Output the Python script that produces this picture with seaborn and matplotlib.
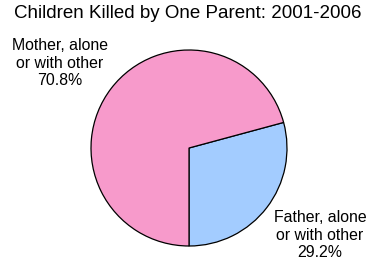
import matplotlib
matplotlib.use("Agg")
import matplotlib.pyplot as plt
import seaborn as sns

categories = ["Father, alone\nor with other", "Mother, alone\nor with other"]
values = [29.2, 70.8]
colors = ["#A3CCFF", "#F79ACB"]

sns.set_theme(style="white")
plt.rcParams['font.family'] = ['Liberation Sans', 'DejaVu Sans']

W, H = 375, 269
fig = plt.figure(figsize=(W / 100, H / 100), dpi=100)
ax = fig.add_axes([0, 0, 1, 1])
cx, cy, r = 189, 148, 98
ax.pie(values, colors=colors, startangle=-90, counterclock=True,
       radius=1, wedgeprops=dict(edgecolor="black", linewidth=0.9))
ax.set_xlim(-cx / r, (W - cx) / r)
ax.set_ylim(-(H - cy) / r, cy / r)
ax.set_aspect('auto')
ax.axis('off')

label_pos = [((320 - cx) / r, (cy - 235) / r), ((60 - cx) / r, (cy - 63) / r)]
for cat, v, (x, y) in zip(categories, values, label_pos):
    ax.text(x, y, f"{cat}\n{v}%", ha="center", va="center", fontsize=11.4,
            linespacing=1.2, color="black")

fig.text(188 / W, 1 - 13 / H, "Children Killed by One Parent: 2001-2006",
         ha="center", va="center", fontsize=13.5, color="black")

fig.savefig("out.png", dpi=100, facecolor="white")
